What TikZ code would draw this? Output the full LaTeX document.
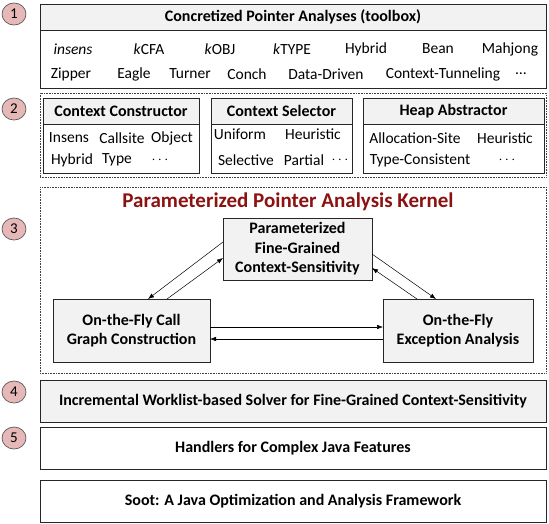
\documentclass[tikz,border=0pt]{standalone}
\usepackage{fontspec}
\setmainfont{Carlito}
\usetikzlibrary{arrows.meta,shadows,shapes.geometric}
\definecolor{hdr}{HTML}{F2F2F2}
\definecolor{pinkc}{HTML}{E6B9B8}
\definecolor{ttl}{RGB}{140,18,18}
\tikzset{
  sh/.style={drop shadow={shadow xshift=1.3pt,shadow yshift=-1.3pt,fill=black!55,opacity=1}},
  boxx/.style={draw=black!85,line width=0.8pt,inner sep=0pt,outer sep=0pt,anchor=north west,align=center},
  hbox/.style={boxx,fill=hdr,font=\fontsize{16}{18}\selectfont\bfseries},
  dotbox/.style={draw=black!75,line width=0.6pt,dash pattern=on 0.8pt off 0.8pt,inner sep=0pt,outer sep=0pt,anchor=north west},
  num/.style={ellipse,draw=black!65,line width=0.7pt,fill=pinkc,minimum width=24pt,minimum height=22pt,inner sep=0pt,font=\fontsize{15}{16}\selectfont},
  itm/.style={inner sep=0pt,font=\fontsize{15.5}{17}\selectfont},
  arr/.style={-{Latex[length=6pt,width=4.5pt]},line width=0.5pt,black}
}
\begin{document}
\begin{tikzpicture}[x=1pt,y=-1pt]
\useasboundingbox (0,0) rectangle (549,523);
% numbers
\node[num] (n1) at (14,14) {1};
\node[num] (n2) at (14,109) {2};
\node[num] (n3) at (14,229) {3};
\node[num] (n4) at (14,392) {4};
\node[num] (n5) at (14,438) {5};
% box 1
\node[boxx,sh,fill=white,minimum width=506pt,minimum height=84pt] (b1) at (40,4) {};
\node[hbox,minimum width=506pt,minimum height=26pt] (b1h) at (40,4) {Concretized Pointer Analyses (toolbox)};
\node[itm] (i1) at (73,49) {\itshape insens};
\node[itm] (i2) at (149,49) {\textit{k}CFA};
\node[itm] (i3) at (220,49) {\textit{k}OBJ};
\node[itm] (i4) at (292,49) {\textit{k}TYPE};
\node[itm] (i5) at (366,49) {Hybrid};
\node[itm] (i6) at (438,49) {Bean};
\node[itm] (i7) at (510,49) {Mahjong};
\node[itm] (j1) at (71,74) {Zipper};
\node[itm] (j2) at (134,74) {Eagle};
\node[itm] (j3) at (190,74) {Turner};
\node[itm] (j4) at (247,74) {Conch};
\node[itm] (j5) at (326,74) {Data-Driven};
\node[itm] (j6) at (443,74) {Context-Tunneling};
\node[itm] (j7) at (521,74) {\ldots};
% box 2
\node[dotbox,minimum width=506pt,minimum height=84pt] (b2) at (40,93) {};
\node[boxx,sh,fill=white,minimum width=156pt,minimum height=75pt] (cc) at (43,98) {};
\node[hbox,minimum width=156pt,minimum height=26pt] (cch) at (43,98) {Context Constructor};
\node[boxx,sh,fill=white,minimum width=141pt,minimum height=75pt] (cs) at (211,98) {};
\node[hbox,minimum width=141pt,minimum height=26pt] (csh) at (211,98) {Context Selector};
\node[boxx,sh,fill=white,minimum width=181pt,minimum height=75pt] (ha) at (363,98) {};
\node[hbox,minimum width=181pt,minimum height=26pt] (hah) at (363,98) {Heap Abstractor};
\node[itm] (c1) at (69,138) {Insens};
\node[itm] (c2) at (122,138) {Callsite};
\node[itm] (c3) at (172,138) {Object};
\node[itm] (c4) at (72,160) {Hybrid};
\node[itm] (c5) at (117,160) {Type};
\node[itm] (c6) at (160,160) {$\cdots$};
\node[itm] (s1) at (240,134) {Uniform};
\node[itm] (s2) at (313,134) {Heuristic};
\node[itm] (s3) at (246,160) {Selective};
\node[itm] (s4) at (304,160) {Partial};
\node[itm] (s5) at (340,160) {$\cdots$};
\node[itm] (h1) at (415,138) {Allocation-Site};
\node[itm] (h2) at (505,138) {Heuristic};
\node[itm] (h3) at (420,160) {Type-Consistent};
\node[itm] (h4) at (507,160) {$\cdots$};
% box 3
\node[dotbox,minimum width=506pt,minimum height=186pt] (b3) at (40,187) {};
\node[inner sep=0pt,font=\fontsize{21}{24}\selectfont\bfseries,text=ttl] (ttl) at (288,202) {Parameterized Pointer Analysis Kernel};
\node[boxx,sh,fill=hdr,minimum width=149pt,minimum height=62pt,font=\fontsize{16}{19.5}\selectfont\bfseries] (par) at (223,218) {Parameterized\\Fine-Grained\\Context-Sensitivity};
\node[boxx,sh,fill=hdr,minimum width=157pt,minimum height=63pt,font=\fontsize{16}{19}\selectfont\bfseries] (cg) at (53,299) {On-the-Fly Call\\Graph Construction};
\node[boxx,sh,fill=hdr,minimum width=150pt,minimum height=63pt,font=\fontsize{16}{19}\selectfont\bfseries] (exc) at (383,299) {On-the-Fly\\Exception Analysis};
\draw[arr] ([yshift=7pt]par.west) -- ([xshift=16.5pt]cg.north);
\draw[arr] ([xshift=35.5pt]cg.north) -- ([yshift=-9pt]par.west);
\draw[arr] ([yshift=-5pt]par.east) -- ([xshift=-22pt]exc.north);
\draw[arr] ([xshift=-41pt]exc.north) -- ([yshift=-19pt]par.east);
\draw[arr] ([yshift=3.5pt]cg.east) -- ([yshift=3.5pt]exc.west);
\draw[arr] ([yshift=-8.5pt]exc.west) -- ([yshift=-8.5pt]cg.east);
% bottom boxes
\node[hbox,sh,minimum width=506pt,minimum height=42pt] (b4) at (40,380) {Incremental Worklist-based Solver for Fine-Grained Context-Sensitivity};
\node[hbox,sh,fill=white,minimum width=506pt,minimum height=42pt] (b5) at (40,427) {Handlers for Complex Java Features};
\node[hbox,sh,fill=white,minimum width=506pt,minimum height=42pt] (b6) at (40,480) {Soot: A Java Optimization and Analysis Framework};
\end{tikzpicture}
\end{document}
